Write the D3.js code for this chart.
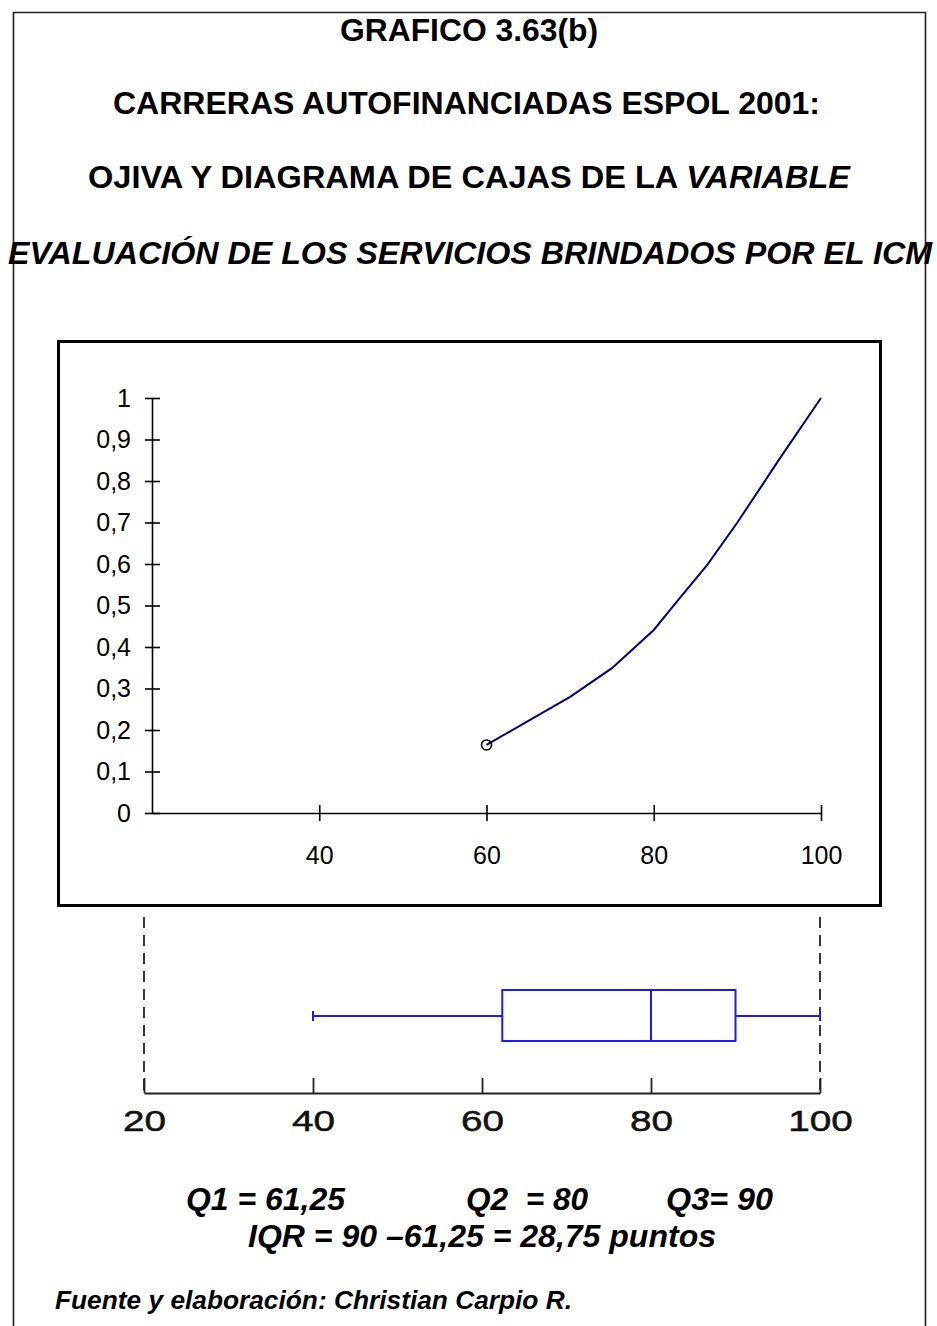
<!DOCTYPE html>
<html>
<head>
<meta charset="utf-8">
<script src="https://cdn.jsdelivr.net/npm/d3@7"></script>
<style>
  html, body { margin: 0; padding: 0; background: #fff; }
  svg { display: block; }
  text { font-family: "Liberation Sans", Arial, sans-serif; }
</style>
</head>
<body>
<script>
// ---------- data ----------
const titleLines = [
  "GRAFICO 3.63(b)",
  "CARRERAS AUTOFINANCIADAS ESPOL 2001:",
  "OJIVA Y DIAGRAMA DE CAJAS DE LA ",
  "EVALUACIÓN DE LOS SERVICIOS BRINDADOS POR EL ICM"
];
const ogiveValues = [60, 65, 70, 75, 80, 83.4, 86.4, 90, 95, 100];
const ogiveCumFreq = [0.164, 0.222, 0.280, 0.349, 0.441, 0.525, 0.598, 0.700, 0.852, 1.0];
const yTickValues = [0, 0.1, 0.2, 0.3, 0.4, 0.5, 0.6, 0.7, 0.8, 0.9, 1];
const yTickLabels = ["0", "0,1", "0,2", "0,3", "0,4", "0,5", "0,6", "0,7", "0,8", "0,9", "1"];
const ogiveXTicks = [40, 60, 80, 100];
const boxXTicks = [20, 40, 60, 80, 100];
const boxStats = { min: 40, q1: 62.4, median: 80, q3: 90, max: 100 };
const statsLine1 = ["Q1 = 61,25", "Q2  = 80", "Q3= 90"];
const statsLine2 = "IQR = 90 –61,25 = 28,75 puntos";
const sourceText = "Fuente y elaboración: Christian Carpio R.";

// ---------- svg ----------
const W = 937, H = 1326;
const svg = d3.select("body").append("svg").attr("width", W).attr("height", H);

// outer border (open at bottom)
svg.append("path")
  .attr("d", "M13.5,1326 V12.5 H925.5 V1326")
  .attr("fill", "none").attr("stroke", "#222").attr("stroke-width", 1.6);

// titles
const tFont = 32;
function title(xPos, yPos, len) {
  return svg.append("text").attr("x", xPos).attr("y", yPos)
    .attr("font-size", tFont).attr("font-weight", "bold")
    .attr("textLength", len).attr("lengthAdjust", "spacingAndGlyphs");
}
title(340, 41, 258).text(titleLines[0]);
title(113, 114, 707).text(titleLines[1]);
const t3 = title(88, 188, 762).attr("xml:space", "preserve");
t3.append("tspan").text(titleLines[2]);
t3.append("tspan").attr("font-style", "italic").text("VARIABLE");
title(8, 264, 924).attr("font-style", "italic").text(titleLines[3]);

// ---------- ogive panel ----------
svg.append("rect").attr("x", 58.5).attr("y", 341.5).attr("width", 822).attr("height", 564)
  .attr("fill", "none").attr("stroke", "#000").attr("stroke-width", 3);

const x = d3.scaleLinear().domain([20, 100]).range([152, 821]);
const y = d3.scaleLinear().domain([0, 1]).range([813, 398]);

const yAxis = svg.append("g").attr("transform", "translate(152,0)")
  .call(d3.axisLeft(y).tickValues(yTickValues).tickSizeInner(7).tickSizeOuter(0).tickPadding(14)
    .tickFormat((d, i) => yTickLabels[i]));
yAxis.selectAll(".tick line").attr("x1", 8);
yAxis.selectAll("text").attr("font-size", 25).attr("fill", "#000")
  .attr("font-family", "'Liberation Sans', Arial, sans-serif");
yAxis.select(".domain").attr("stroke-width", 1.6);
yAxis.selectAll(".tick line").attr("stroke-width", 1.6);

const xAxis = svg.append("g").attr("transform", "translate(0,813)")
  .call(d3.axisBottom(x).tickValues(ogiveXTicks).tickSizeInner(8).tickSizeOuter(0).tickPadding(25));
xAxis.selectAll(".tick line").attr("y1", -8);
xAxis.selectAll("text").attr("font-size", 25).attr("fill", "#000")
  .attr("font-family", "'Liberation Sans', Arial, sans-serif");
xAxis.select(".domain").attr("stroke-width", 1.6);
xAxis.selectAll(".tick line").attr("stroke-width", 1.6);

const ogiveData = ogiveValues.map((v, i) => [v, ogiveCumFreq[i]]);
svg.append("path").datum(ogiveData)
  .attr("d", d3.line().x(d => x(d[0])).y(d => y(d[1])))
  .attr("fill", "none").attr("stroke", "#000080").attr("stroke-width", 2);
svg.append("circle").attr("cx", x(ogiveData[0][0])).attr("cy", y(ogiveData[0][1])).attr("r", 5)
  .attr("fill", "none").attr("stroke", "#000").attr("stroke-width", 1.6);

// ---------- box plot ----------
const bx = d3.scaleLinear().domain([20, 100]).range([144, 820]);
const axisY = 1093;
const boxTop = 990, boxBot = 1041, midY = 1016;

[20, 100].forEach(v => {
  svg.append("line").attr("x1", bx(v)).attr("x2", bx(v)).attr("y1", 917).attr("y2", axisY)
    .attr("stroke", "#222").attr("stroke-width", 1.8).attr("stroke-dasharray", "11,7");
});

const bAxis = svg.append("g").attr("transform", `translate(0,${axisY})`)
  .call(d3.axisBottom(bx).tickValues(boxXTicks).tickSizeInner(0).tickSizeOuter(0).tickPadding(17));
bAxis.selectAll(".tick line").attr("y1", 0).attr("y2", -15).attr("stroke", "#222").attr("stroke-width", 1.8);
bAxis.select(".domain").attr("stroke", "#222").attr("stroke-width", 1.8);
bAxis.selectAll("text").attr("font-size", 29).attr("fill", "#111")
  .attr("font-family", "'Liberation Sans', Arial, sans-serif")
  .attr("stroke", "#111").attr("stroke-width", 0.5)
  .attr("textLength", d => String(d).length * 21.5).attr("lengthAdjust", "spacingAndGlyphs");

const blue = "#1a1aff";
const bg = svg.append("g").attr("stroke", blue).attr("stroke-width", 2).attr("fill", "none");
bg.append("rect").attr("x", bx(boxStats.q1)).attr("y", boxTop)
  .attr("width", bx(boxStats.q3) - bx(boxStats.q1)).attr("height", boxBot - boxTop);
bg.append("line").attr("x1", bx(boxStats.median)).attr("x2", bx(boxStats.median)).attr("y1", boxTop).attr("y2", boxBot);
bg.append("line").attr("x1", bx(boxStats.min)).attr("x2", bx(boxStats.q1)).attr("y1", midY).attr("y2", midY);
bg.append("line").attr("x1", bx(boxStats.q3)).attr("x2", bx(boxStats.max)).attr("y1", midY).attr("y2", midY);
[boxStats.min, boxStats.max].forEach(v => {
  bg.append("line").attr("x1", bx(v)).attr("x2", bx(v)).attr("y1", midY - 5).attr("y2", midY + 5);
});

// ---------- stats & source ----------
const statX = [186, 466, 666];
const statLen = [159, 122, 107];
statsLine1.forEach((s, i) => {
  svg.append("text").attr("x", statX[i]).attr("y", 1210).attr("font-size", 32)
    .attr("font-weight", "bold").attr("font-style", "italic").attr("xml:space", "preserve")
    .attr("textLength", statLen[i]).attr("lengthAdjust", "spacingAndGlyphs")
    .text(s);
});
svg.append("text").attr("x", 248).attr("y", 1247).attr("font-size", 32)
  .attr("font-weight", "bold").attr("font-style", "italic")
  .attr("textLength", 468).attr("lengthAdjust", "spacingAndGlyphs").text(statsLine2);
svg.append("text").attr("x", 55).attr("y", 1309).attr("font-size", 26)
  .attr("font-weight", "bold").attr("font-style", "italic")
  .attr("textLength", 517).attr("lengthAdjust", "spacingAndGlyphs").text(sourceText);
</script>
</body>
</html>
